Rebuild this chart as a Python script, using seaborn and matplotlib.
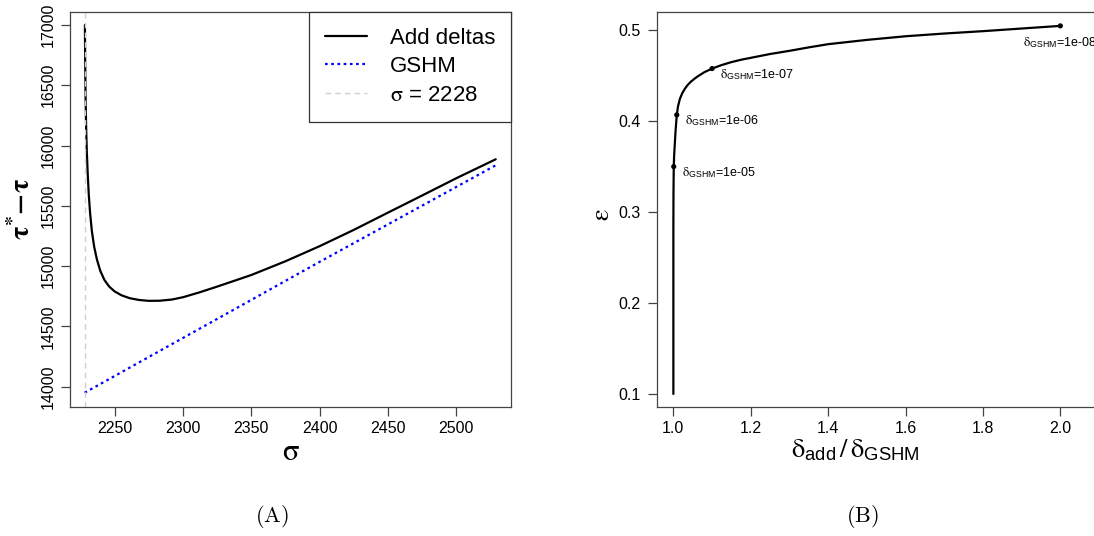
import matplotlib
matplotlib.use("Agg")
import matplotlib.pyplot as plt
import seaborn as sns

# ---- panel A data ----
sigma_add = [2228.2, 2228.4, 2228.7, 2229.1, 2229.6, 2230.2, 2231.0, 2232.0, 2233.3, 2235.0,
             2237.0, 2239.5, 2242.5, 2246, 2250, 2255, 2261, 2268, 2275, 2283,
             2292, 2300, 2312, 2325, 2337, 2350, 2375, 2400, 2425, 2450,
             2475, 2500, 2529]
tau_add = [17000, 16700, 16400, 16150, 15950, 15780, 15600, 15440, 15290, 15160,
           15055, 14960, 14885, 14830, 14790, 14758, 14734, 14719, 14712, 14713,
           14723, 14742, 14782, 14830, 14876, 14926, 15040, 15165, 15300, 15443,
           15585, 15728, 15886]
sigma_gshm = [2228, 2400, 2529]
tau_gshm = [13950, 15035, 15836]
sigma_min = 2228

# ---- panel B data ----
ratio = [1.000, 1.000, 1.000, 1.0003, 1.001, 1.002, 1.0035, 1.0055, 1.0088, 1.012,
         1.017, 1.023, 1.030, 1.037, 1.045, 1.055, 1.065, 1.080, 1.100, 1.125,
         1.150, 1.175, 1.200, 1.250, 1.300, 1.350, 1.400, 1.500, 1.600, 1.700,
         1.800, 1.900, 2.000]
eps = [0.100, 0.200, 0.280, 0.320, 0.3498, 0.362, 0.373, 0.388, 0.4066, 0.4160,
       0.4244, 0.4305, 0.4355, 0.4395, 0.4430, 0.4465, 0.4495, 0.4535, 0.4575, 0.4614,
       0.4646, 0.4672, 0.4693, 0.4735, 0.4770, 0.4808, 0.4843, 0.4890, 0.4930, 0.4960,
       0.4986, 0.5015, 0.5044]
pt_ratio = [1.001, 1.0088, 1.100, 2.000]
pt_eps = [0.3498, 0.4066, 0.4575, 0.5044]
pt_labels = ["1e-05", "1e-06", "1e-07", "1e-08"]

sns.set_theme(style="white")
plt.rcParams["font.family"] = ["Liberation Sans", "DejaVu Sans"]
plt.rcParams["axes.edgecolor"] = "#444444"
plt.rcParams["axes.linewidth"] = 0.9
plt.rcParams["text.color"] = "black"
plt.rcParams["axes.labelcolor"] = "black"
plt.rcParams["xtick.color"] = "black"
plt.rcParams["ytick.color"] = "black"

fig = plt.figure(figsize=(10.94, 5.36), dpi=100)
axA = fig.add_axes([0.0640, 0.2412, 0.4031, 0.7370])
axB = fig.add_axes([0.6003, 0.2412, 0.4043, 0.7370])

for ax in (axA, axB):
    ax.tick_params(direction="out", length=6.5, width=0.9, color="#444444",
                   labelcolor="black", labelsize=11.5, bottom=True, left=True)
    for s in ax.spines.values():
        s.set_visible(True)

# ---- panel A ----
sns.lineplot(x=sigma_add, y=tau_add, ax=axA, color="black", linewidth=1.6,
             estimator=None, sort=False, label="Add deltas")
sns.lineplot(x=sigma_gshm, y=tau_gshm, ax=axA, color="#0000ff", linewidth=1.6,
             linestyle=(0, (1.2, 1.6)), estimator=None, sort=False, label="GSHM")
axA.axvline(sigma_min, color="#cfcfcf", linewidth=1, linestyle=(0, (4, 3)),
            label=r"$\mathrm{\sigma}$ = 2228")
axA.set_xlim(2217.3, 2540.2)
axA.set_ylim(13834, 17110)
axA.set_xticks([2250, 2300, 2350, 2400, 2450, 2500])
axA.set_yticks([14000, 14500, 15000, 15500, 16000, 16500, 17000])
axA.tick_params(axis="x", pad=4)
axA.tick_params(axis="y", pad=4)
for lab in axA.get_yticklabels():
    lab.set_rotation(90)
    lab.set_va("center")

axA.set_xlabel(r"$\mathrm{\sigma}$", fontsize=22, math_fontfamily="stix")
axA.xaxis.set_label_coords(0.501, -0.115)
axA.xaxis.label.set_va("center")
axA.set_ylabel(r"$\mathbf{\tau^{*}\!-\!\tau}$", fontsize=20, math_fontfamily="stix")
axA.yaxis.set_label_coords(-0.109, 0.5)
axA.yaxis.label.set_va("center")

leg = axA.legend(loc="upper right", bbox_to_anchor=(1, 1), borderaxespad=0,
                 fontsize=16, frameon=True, fancybox=False, framealpha=1,
                 edgecolor="#333333", handlelength=1.9, handletextpad=1.0,
                 labelspacing=0.34, borderpad=0.72)
leg.get_frame().set_linewidth(0.9)
for t in leg.get_texts():
    t.set_math_fontfamily("stix")

# ---- panel B ----
sns.lineplot(x=ratio, y=eps, ax=axB, color="black", linewidth=1.6,
             estimator=None, sort=False)
sns.scatterplot(x=pt_ratio, y=pt_eps, ax=axB, color="black", s=14,
                edgecolor="none", zorder=3)
for i in range(len(pt_labels)):
    txt = r"$\mathrm{\delta}_{\mathregular{GSHM}}$=" + pt_labels[i]
    if i < 3:
        axB.annotate(txt, (pt_ratio[i], pt_eps[i]), xytext=(6, -4),
                     textcoords="offset points", ha="left", va="center",
                     fontsize=9, math_fontfamily="stix", annotation_clip=False)
    else:
        axB.annotate(txt, (pt_ratio[i], pt_eps[i]), xytext=(0, -7),
                     textcoords="offset points", ha="center", va="top",
                     fontsize=9, math_fontfamily="stix", annotation_clip=False)

axB.set_xlim(0.957, 2.100)
axB.set_ylim(0.086, 0.520)
axB.set_xticks([1.0, 1.2, 1.4, 1.6, 1.8, 2.0])
axB.set_xticklabels(["1.0", "1.2", "1.4", "1.6", "1.8", "2.0"])
axB.set_yticks([0.1, 0.2, 0.3, 0.4, 0.5])
axB.set_yticklabels(["0.1", "0.2", "0.3", "0.4", "0.5"])
axB.tick_params(axis="x", pad=4)
axB.tick_params(axis="y", pad=5)

axB.set_xlabel(r"$\mathrm{\delta}_{\mathregular{add}}\,/\,\mathrm{\delta}_{\mathregular{GSHM}}$",
               fontsize=19, math_fontfamily="stix")
axB.xaxis.set_label_coords(0.45, -0.11)
axB.xaxis.label.set_va("center")
axB.set_ylabel(r"$\mathrm{\varepsilon}$", fontsize=19, math_fontfamily="stix")
axB.yaxis.set_label_coords(-0.124, 0.485)
axB.yaxis.label.set_va("center")

# ---- sub-figure captions ----
fig.text(272 / 1094, 1 - 516 / 536, r"$\mathrm{(A)}$", fontsize=16,
         math_fontfamily="cm", ha="center", va="center")
fig.text(862 / 1094, 1 - 516 / 536, r"$\mathrm{(B)}$", fontsize=16,
         math_fontfamily="cm", ha="center", va="center")

fig.savefig("out.png", dpi=100)
